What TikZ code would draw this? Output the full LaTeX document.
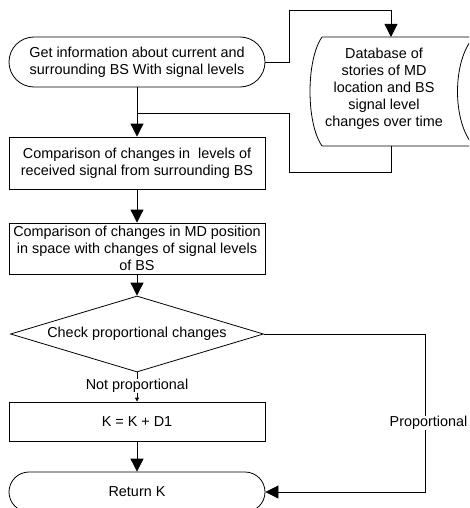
\documentclass[tikz,border=0pt]{standalone}
\usepackage{fontspec}
\setmainfont{Liberation Sans}
\usetikzlibrary{arrows.meta,shapes.geometric}
\begin{document}
\begin{tikzpicture}[x=1pt,y=-1pt,line width=0.8pt,
  font=\fontsize{14.4}{17}\selectfont,
  box/.style={draw,minimum width=256pt,align=center,inner sep=2pt},
  term/.style={box,rounded corners=#1},
  arr/.style={-{Triangle[width=13pt,length=13pt]}},
  smallarr/.style={-{Triangle[width=4pt,length=4pt]}},
  lbl/.style={fill=white,inner sep=0.5pt}]
  \useasboundingbox (0,0) rectangle (469,508);
  \clip (0,0) rectangle (469,508);
  % 流程节点
  \node[term=25pt,minimum height=50pt] (start) at (137,62)
    {Get information about current and\\surrounding BS With signal levels};
  \node[box,minimum height=52pt] (cmp1) at (137,163)
    {Comparison of changes in\ \ levels of\\received signal from surrounding BS};
  \node[box,minimum height=51pt] (cmp2) at (137,248.5)
    {Comparison of changes in MD position\\in space with changes of signal levels\\of BS};
  \node[draw,diamond,aspect=3.33,minimum width=253pt,minimum height=76pt,inner sep=0pt]
    (check) at (137,334) {Check proportional changes};
  \node[box,minimum height=39pt] (upd) at (137,421.5) {K = K + D1};
  \node[term=20pt,minimum height=40pt] (ret) at (137,492) {Return K};
  % 数据库
  \draw (322,37) -- (474,37) .. controls (452,60) and (452,123) .. (474,146)
    -- (322,146) .. controls (306,123) and (306,60) .. (322,37);
  \node[align=center] (db) at (384,89)
    {Database of\\stories of MD\\location and BS\\signal level\\changes over time};
  \coordinate (dbin) at (391,37);
  \coordinate (dbout) at (391,146);
  \coordinate (join) at (137,113);
  % 连线
  \draw[arr] (start.east) -- (289,62) |- (391,10) -- (dbin);
  \draw (dbout) |- (289,172) |- (join);
  \draw[arr] (start) -- (cmp1);
  \draw[arr] (cmp1) -- (cmp2);
  \draw[arr] (cmp2) -- (check);
  \draw[smallarr] (check.south) -- (upd.north);
  \node[lbl] (np) at (137,386) {Not proportional};
  \draw[arr] (upd) -- (ret);
  \draw[arr] (check.east) -| (425,492) -- (ret.east);
  \node[lbl] (pr) at (428.5,423) {Proportional};
\end{tikzpicture}
\end{document}
